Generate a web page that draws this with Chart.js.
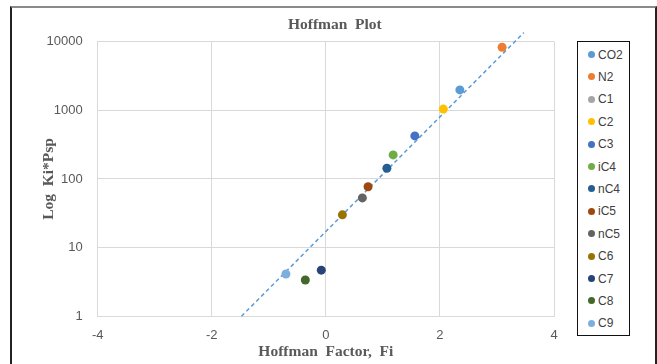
<!DOCTYPE html>
<html>
<head>
<meta charset="utf-8">
<script src="https://cdn.jsdelivr.net/npm/chart.js@4.4.1/dist/chart.umd.min.js"></script>
<style>
  html, body { margin: 0; padding: 0; background: #fff; }
  #wrap { position: relative; width: 657px; height: 364px; overflow: hidden; }
  #frame { position: absolute; left: 10px; top: 6px; width: 643px; height: 400px;
           border-top: 2px solid #8a8a8a; border-left: 2px solid #222; border-right: 2px solid #222; }
  #chartBox { position: absolute; left: 0; top: 0; width: 657px; height: 364px; }
  #legend { position: absolute; left: 577px; top: 41px; width: 51px; height: 293px;
            border: 1.5px solid #111; background: #fff; }
  .li { position: absolute; left: 0; height: 16px; display: flex; align-items: center;
        font-family: "Liberation Sans", Arial, sans-serif; font-size: 12px; color: #404040; }
  .dot { display: inline-block; width: 7px; height: 7px; border-radius: 50%; margin-left: 10px; margin-right: 3px; }
</style>
</head>
<body>
<div id="wrap">
  <div id="frame"></div>
  <div id="chartBox"><canvas id="c"></canvas></div>
  <div id="legend"></div>
</div>
<script>
// ---- data ----
const categories = ['CO2', 'N2', 'C1', 'C2', 'C3', 'iC4', 'nC4', 'iC5', 'nC5', 'C6', 'C7', 'C8', 'C9'];
const hoffmanFactor = [2.35, 3.09, null, 2.06, 1.56, 1.18, 1.07, 0.74, 0.64, 0.29, -0.08, -0.36, -0.70];
const logKiPsp = [1980, 8280, null, 1040, 423, 224, 143, 77, 53, 30, 4.7, 3.38, 4.13];
const trendX = [-1.48, 3.47];
const trendY = [1, 13500];
const xTicks = [-4, -2, 0, 2, 4];
const yTicks = [1, 10, 100, 1000, 10000];

// ---- styles ----
const colors = ['#5B9BD5', '#ED7D31', '#A5A5A5', '#FFC000', '#4472C4', '#70AD47', '#255E91',
                '#9E480E', '#636363', '#997300', '#264478', '#43682B', '#7CAFDD'];
const textGray = '#595959';
const gridGray = '#d9d9d9';

const datasets = categories.map((name, i) => ({
  type: 'scatter',
  label: name,
  data: (hoffmanFactor[i] === null || logKiPsp[i] === null) ? [] : [{ x: hoffmanFactor[i], y: logKiPsp[i] }],
  backgroundColor: colors[i],
  borderColor: colors[i],
  borderWidth: 0,
  pointRadius: 4.5,
  pointHoverRadius: 4.5
}));
datasets.push({
  type: 'line',
  label: 'Trend',
  data: trendX.map((x, i) => ({ x: x, y: trendY[i] })),
  borderColor: '#5B9BD5',
  borderWidth: 1.5,
  borderDash: [4, 3],
  pointRadius: 0,
  fill: false,
  clip: false
});

const shiftTitle = {
  id: 'shiftTitle',
  afterLayout(chart) {
    if (chart.titleBlock) { chart.titleBlock.left += 9; chart.titleBlock.right += 9; }
  }
};

const titleFont = { family: '"Liberation Serif", "Times New Roman", serif', size: 15.5, weight: 'bold' };

new Chart(document.getElementById('c'), {
  data: { datasets },
  options: {
    responsive: true,
    maintainAspectRatio: false,
    animation: false,
    devicePixelRatio: 1,
    layout: { padding: { left: 11, right: 103, top: 0, bottom: 0 } },
    plugins: {
      legend: { display: false },
      tooltip: { enabled: false },
      title: {
        display: true,
        text: 'Hoffman  Plot',
        color: textGray,
        font: titleFont,
        fullSize: false,
        padding: { top: 16, bottom: 7 }
      }
    },
    scales: {
      x: {
        type: 'linear',
        min: -4, max: 4,
        afterBuildTicks: s => { s.ticks = xTicks.map(v => ({ value: v })); },
        afterFit: s => { s.height = 47.7; },
        grid: { color: gridGray, lineWidth: 1, drawTicks: false },
        border: { color: gridGray, width: 1 },
        ticks: { color: textGray, padding: 11, font: { family: '"Liberation Sans", Arial, sans-serif', size: 13 },
                 callback: v => String(v) },
        title: { display: true, text: 'Hoffman  Factor,  Fi', color: textGray, font: titleFont,
                 padding: { top: 0, bottom: 3 } }
      },
      y: {
        type: 'logarithmic',
        min: 1, max: 10000,
        afterBuildTicks: s => { s.ticks = yTicks.map(v => ({ value: v })); },
        afterFit: s => { s.width = 86.7; },
        grid: { color: gridGray, lineWidth: 1, drawTicks: false },
        border: { color: gridGray, width: 1 },
        ticks: { color: textGray, padding: 15, font: { family: '"Liberation Sans", Arial, sans-serif', size: 13 },
                 callback: v => String(v) },
        title: { display: true, text: 'Log  Ki*Psp', color: textGray, font: titleFont,
                 padding: { top: 29, bottom: 0 } }
      }
    }
  },
  plugins: [shiftTitle]
});

// HTML legend built from the categories
const legend = document.getElementById('legend');
categories.forEach((name, i) => {
  const d = document.createElement('div');
  d.className = 'li';
  d.style.top = (12.5 - 8 + i * 22.4) + 'px';
  d.innerHTML = '<span class="dot" style="background:' + colors[i] + '"></span><span>' + name + '</span>';
  legend.appendChild(d);
});
</script>
</body>
</html>
